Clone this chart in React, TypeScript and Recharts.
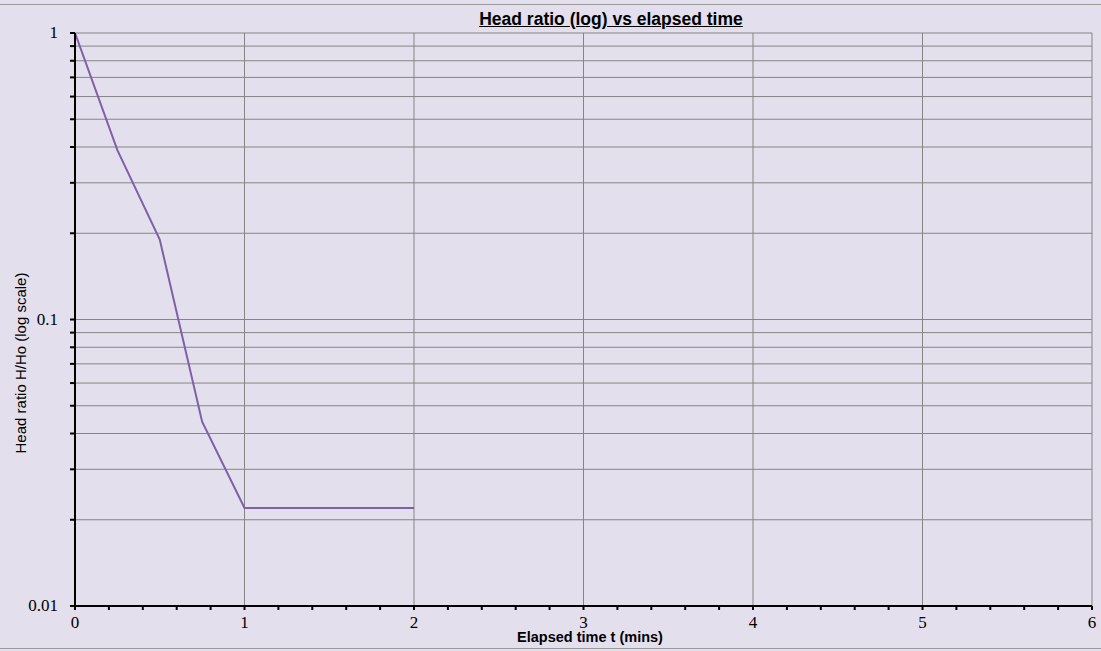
import { LineChart, Line, XAxis, YAxis, CartesianGrid } from 'recharts';

const times = [0, 0.25, 0.5, 0.75, 1, 1.25, 1.5, 1.75, 2];
const headRatio = [1, 0.39, 0.19, 0.044, 0.022, 0.022, 0.022, 0.022, 0.022];

const xTicks = [
  0, 0.2, 0.4, 0.6, 0.8, 1, 1.2, 1.4, 1.6, 1.8, 2, 2.2, 2.4, 2.6, 2.8, 3,
  3.2, 3.4, 3.6, 3.8, 4, 4.2, 4.4, 4.6, 4.8, 5, 5.2, 5.4, 5.6, 5.8, 6,
];
const xGrid = [1, 2, 3, 4, 5, 6];
const yTicks = [
  0.01, 0.02, 0.03, 0.04, 0.05, 0.06, 0.07, 0.08, 0.09,
  0.1, 0.2, 0.3, 0.4, 0.5, 0.6, 0.7, 0.8, 0.9, 1,
];
const yLabels = [0.01, 0.1, 1];
const yGrid = yTicks.filter(v => v > 0.01);

const data = times.map((t, i) => ({ t, h: headRatio[i] }));

const serif = '"Liberation Serif", "Times New Roman", serif';

function XTick(props: any) {
  const { x, y, payload } = props;
  if (!Number.isInteger(payload.value)) return null;
  return (
    <text x={x} y={y} dy={13} textAnchor="middle" fontFamily={serif} fontSize={17} fill="#000">
      {payload.value}
    </text>
  );
}

function YTick(props: any) {
  const { x, y, payload } = props;
  if (!yLabels.includes(payload.value)) return null;
  return (
    <text x={x} y={y} dy={5} textAnchor="end" fontFamily={serif} fontSize={17} fill="#000">
      {payload.value}
    </text>
  );
}

export default function App() {
  return (
    <div
      style={{
        position: 'absolute',
        left: 0,
        top: 0,
        width: 1101,
        height: 651,
        background: '#E4DFEC',
        overflow: 'hidden',
      }}
    >
      <div
        style={{
          position: 'absolute',
          left: 0,
          top: 4,
          width: 1101,
          height: 643,
          borderTop: '1px solid #9a9a9a',
          borderBottom: '1px solid #9a9a9a',
        }}
      />
      <LineChart
        width={1101}
        height={651}
        data={data}
        margin={{ top: 33, right: 9, bottom: 0, left: 0 }}
        style={{ position: 'absolute', left: 0, top: 0 }}
      >
        <CartesianGrid
          stroke="#858585"
          strokeWidth={1}
          horizontalValues={yGrid}
          verticalValues={xGrid}
        />
        <XAxis
          dataKey="t"
          type="number"
          domain={[0, 6]}
          ticks={xTicks}
          interval={0}
          height={45}
          tickSize={4}
          tickMargin={5}
          tick={<XTick />}
          tickLine={{ stroke: '#000', strokeWidth: 2 }}
          axisLine={{ stroke: '#000', strokeWidth: 2 }}
        />
        <YAxis
          type="number"
          scale="log"
          domain={[0.01, 1]}
          allowDataOverflow
          ticks={yTicks}
          interval={0}
          width={75}
          tickSize={5}
          tickMargin={12}
          tick={<YTick />}
          tickLine={{ stroke: '#000', strokeWidth: 2 }}
          axisLine={{ stroke: '#000', strokeWidth: 2 }}
        />
        <Line
          type="linear"
          dataKey="h"
          stroke="#7E60A9"
          strokeWidth={2}
          dot={false}
          isAnimationActive={false}
        />
      </LineChart>
      <div
        style={{
          position: 'absolute',
          left: 411,
          top: 8,
          width: 400,
          textAlign: 'center',
          fontFamily: '"Liberation Sans", Arial, sans-serif',
          fontWeight: 'bold',
          fontSize: 17.5,
          lineHeight: '22px',
          textDecoration: 'underline',
          color: '#000',
        }}
      >
        Head ratio (log) vs elapsed time
      </div>
      <div
        style={{
          position: 'absolute',
          left: 440,
          top: 628,
          width: 300,
          textAlign: 'center',
          fontFamily: '"Liberation Sans", Arial, sans-serif',
          fontWeight: 'bold',
          fontSize: 14.5,
          lineHeight: '18px',
          color: '#000',
        }}
      >
        Elapsed time t (mins)
      </div>
      <div
        style={{
          position: 'absolute',
          left: 21,
          top: 363,
          width: 300,
          marginLeft: -150,
          marginTop: -9,
          textAlign: 'center',
          transform: 'rotate(-90deg)',
          fontFamily: '"Liberation Sans", Arial, sans-serif',
          fontSize: 15,
          color: '#000',
          lineHeight: '18px',
        }}
      >
        Head ratio H/Ho (log scale)
      </div>
    </div>
  );
}
